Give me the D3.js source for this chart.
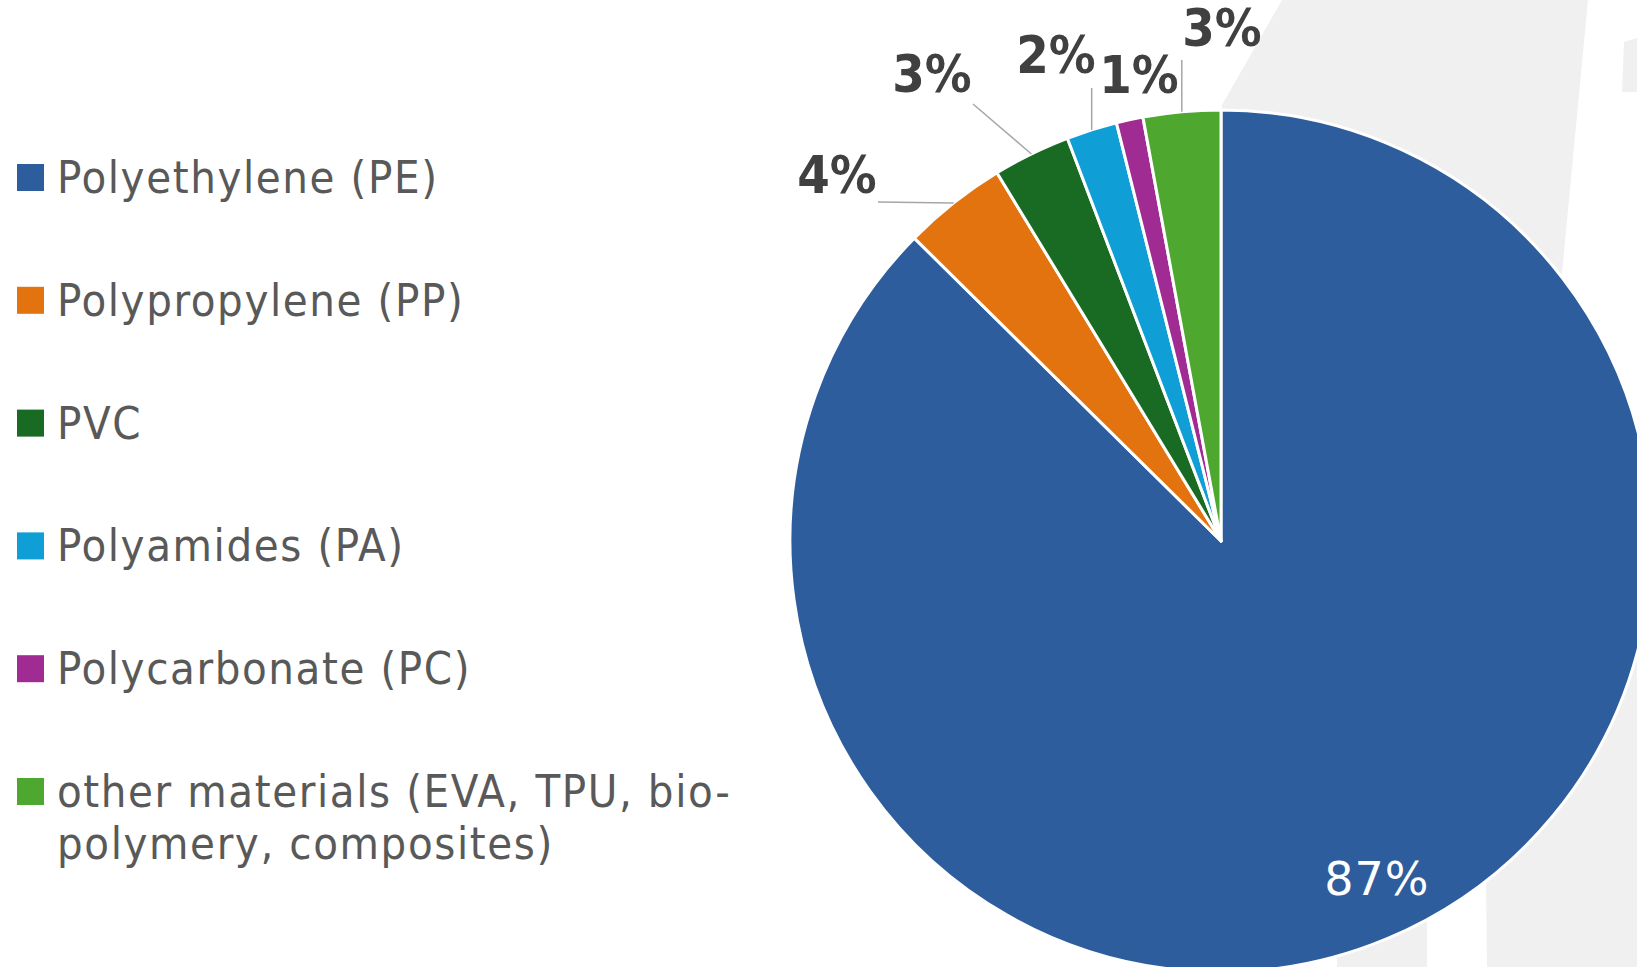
<!DOCTYPE html>
<html>
<head>
<meta charset="utf-8">
<title>Plastics share - pie</title>
<script src="https://cdn.jsdelivr.net/npm/d3@7"></script>
<style>
  body { margin: 0; background: #fff; }
  svg { display: block; }
  .legend text { font-family: 'DejaVu Sans Condensed', 'DejaVu Sans', sans-serif; font-size: 45px; letter-spacing: 1.6px; fill: #595959; }
  .lbl { font-family: 'DejaVu Sans Condensed', 'DejaVu Sans', sans-serif; font-weight: bold; font-size: 52px; fill: #404040; }
  .inner { font-family: 'DejaVu Sans', sans-serif; font-size: 46px; letter-spacing: 1px; fill: #fff; }
</style>
</head>
<body>
<svg id="svg" width="1637" height="967"></svg>
<script>
// data
var categories = ['Polyethylene (PE)', 'Polypropylene (PP)', 'PVC', 'Polyamides (PA)',
                  'Polycarbonate (PC)', 'other materials (EVA, TPU, bio-|polymery, composites)'];
var shares = [87.4, 3.9, 2.9, 1.9, 1.0, 2.9];
var labels = ['87%', '4%', '3%', '2%', '1%', '3%'];
var colors = ['#2e5d9d', '#e2730f', '#196b24', '#0f9ed5', '#a02b93', '#4ea72e'];

// where the outside labels sit (text centre x, baseline y) and where the leader starts
var labelLayout = [
    null,
    {x: 837, y: 193, lx: 878, ly: 202},
    {x: 932, y: 92, lx: 973, ly: 104},
    {x: 1056, y: 73, lx: null, ly: 88},
    {x: 1139, y: 93},
    {x: 1222, y: 46, lx: null, ly: 60}
];

var svg = d3.select('#svg');
var cx = 1221, cy = 541, r = 431;

// light grey background shapes behind the chart
var bg = [
    [[1282, 0], [1588, 0], [1548, 420], [1222, 300], [1222, 105]],
    [[1624, 42], [1637, 38], [1637, 92], [1622, 92]],
    [[1337, 800], [1427, 800], [1427, 967], [1337, 967]],
    [[1483, 600], [1637, 600], [1637, 967], [1487, 967]]
];
svg.selectAll('polygon.bg').data(bg).enter().append('polygon')
    .attr('class', 'bg')
    .attr('points', function(d){ return d.map(function(p){ return p.join(','); }).join(' '); })
    .attr('fill', '#f0f0f0');

var pie = d3.pie().sort(null).value(function(d){ return d; });
var arcs = pie(shares);
var arc = d3.arc().innerRadius(0).outerRadius(r);
var g = svg.append('g').attr('transform', 'translate(' + cx + ',' + cy + ')');

g.selectAll('path.slice').data(arcs).enter().append('path')
    .attr('class', 'slice')
    .attr('d', arc)
    .attr('fill', function(d, i){ return colors[i]; })
    .attr('stroke', '#fff')
    .attr('stroke-width', 3)
    .attr('stroke-linejoin', 'round');

// label inside the big slice
var innerArc = d3.arc().innerRadius(r * 0.86).outerRadius(r * 0.86);
var c0 = innerArc.centroid(arcs[0]);
g.append('text').attr('class', 'inner')
    .attr('x', c0[0] + 13).attr('y', c0[1] - 5)
    .attr('text-anchor', 'middle')
    .attr('dy', '0.36em')
    .text(labels[0]);

// outside labels + leader lines
var edgeArc = d3.arc().innerRadius(r).outerRadius(r);
arcs.forEach(function(a, i){
    var L = labelLayout[i];
    if (!L) return;
    svg.append('text').attr('class', 'lbl')
        .attr('x', L.x).attr('y', L.y)
        .attr('text-anchor', 'middle')
        .text(labels[i]);
    if (L.ly === undefined) return;
    var e = edgeArc.centroid(a);
    var ex = cx + e[0], ey = cy + e[1];
    var sx = L.lx === null ? ex : L.lx;
    svg.append('line')
        .attr('x1', sx).attr('y1', L.ly)
        .attr('x2', ex).attr('y2', ey)
        .attr('stroke', '#a6a6a6')
        .attr('stroke-width', 1.5);
});

// legend
var legend = svg.append('g').attr('class', 'legend');
var rowY = d3.scaleLinear().domain([0, 5]).range([164, 778]);
categories.forEach(function(name, i){
    var y = rowY(i);
    legend.append('rect')
        .attr('x', 17).attr('y', y)
        .attr('width', 27).attr('height', 27)
        .attr('fill', colors[i]);
    var t = legend.append('text').attr('x', 57).attr('y', y + 29);
    name.split('|').forEach(function(part, k){
        t.append('tspan').attr('x', 57).attr('dy', k === 0 ? 0 : 52).text(part);
    });
});
</script>
</body>
</html>
